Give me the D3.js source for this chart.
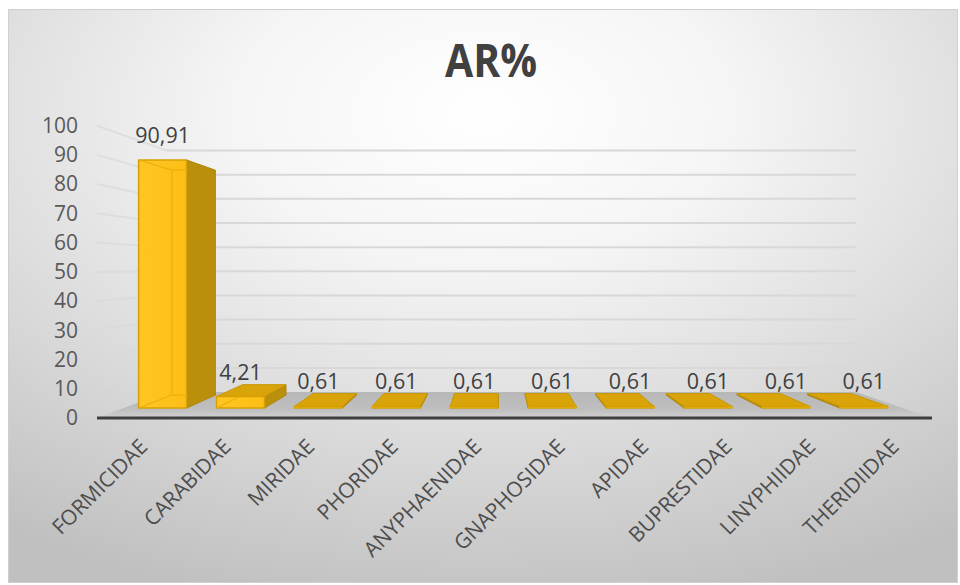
<!DOCTYPE html>
<html>
<head>
<meta charset="utf-8">
<script src="https://cdn.jsdelivr.net/npm/d3@7"></script>
<style>
  html, body { margin: 0; padding: 0; background: #ffffff; }
  svg { display: block; }
</style>
</head>
<body>
<svg id="chart" width="960" height="585"></svg>
<script>
// ---- data ----
const categories = ["FORMICIDAE", "CARABIDAE", "MIRIDAE", "PHORIDAE", "ANYPHAENIDAE",
                    "GNAPHOSIDAE", "APIDAE", "BUPRESTIDAE", "LINYPHIIDAE", "THERIDIIDAE"];
const arValues = [90.91, 4.21, 0.61, 0.61, 0.61, 0.61, 0.61, 0.61, 0.61, 0.61];
const yTicks = [0, 10, 20, 30, 40, 50, 60, 70, 80, 90, 100];
const chartTitle = "AR%";

// ---- setup ----
const svg = d3.select("#chart");
const defs = svg.append("defs");
const FONT = "'Open Sans', 'DejaVu Sans', sans-serif";

// decimal comma formatting for the value labels
const fmt = d3.formatLocale({ decimal: ",", thousands: ".", grouping: [3], currency: ["", ""] }).format(".2f");

// chart area background
const bg = defs.append("radialGradient").attr("id", "bgGrad")
  .attr("cx", "50%").attr("cy", "18%").attr("r", "88%").attr("fx", "50%").attr("fy", "18%");
bg.append("stop").attr("offset", "0%").attr("stop-color", "#ffffff");
bg.append("stop").attr("offset", "30%").attr("stop-color", "#f5f5f5");
bg.append("stop").attr("offset", "100%").attr("stop-color", "#c0c0c0");

svg.append("rect")
  .attr("x", 8.5).attr("y", 9.5).attr("width", 949).attr("height", 573)
  .attr("fill", "url(#bgGrad)").attr("stroke", "#cfcfcf").attr("stroke-width", 1);

// ---- scales (front plane of the 3D box) ----
const x = d3.scaleBand().domain(categories).range([97, 932])
  .paddingInner(0.384).paddingOuter(0.192);
const y = d3.scaleLinear().domain([0, 100]).range([418, 125.6]);

// one-point perspective: k = 1 is the front plane, smaller k lies deeper
const VP = [495, 269];
const K_BAR_FRONT = 0.933, K_BAR_BACK = 0.846, K_WALL = 0.826;
const proj = (X, Y, k) => [VP[0] + k * (X - VP[0]), VP[1] + k * (Y - VP[1])];
const path = pts => "M" + pts.map(p => p[0].toFixed(2) + "," + p[1].toFixed(2)).join("L") + "Z";
const line = (a, b) => "M" + a.join(",") + "L" + b.join(",");

const [X0, X1] = x.range();

// ---- walls: gridlines on back wall and left side wall ----
const grid = svg.append("g").attr("fill", "none").attr("stroke", "#d8d8d8").attr("stroke-width", 2);
yTicks.filter(t => t > 0).forEach(t => {
  grid.append("path").attr("d", line(proj(X0, y(t), K_WALL), proj(X1, y(t), K_WALL)));
  grid.append("path").attr("d", line(proj(X0, y(t), 1), proj(X0, y(t), K_WALL)))
    .attr("stroke-opacity", 0.7);
});

// ---- floor ----
const floorGrad = defs.append("linearGradient").attr("id", "floorGrad")
  .attr("x1", 0).attr("y1", 0).attr("x2", 0).attr("y2", 1);
floorGrad.append("stop").attr("offset", "0%").attr("stop-color", "#b8b8b8");
floorGrad.append("stop").attr("offset", "65%").attr("stop-color", "#bebebe");
floorGrad.append("stop").attr("offset", "100%").attr("stop-color", "#d0d0d0");
svg.append("path")
  .attr("d", path([proj(X0, y(0), 1), proj(X1, y(0), 1), proj(X1, y(0), K_WALL), proj(X0, y(0), K_WALL)]))
  .attr("fill", "url(#floorGrad)");

// ---- bars ----
const frontGrad = defs.append("linearGradient").attr("id", "frontGrad")
  .attr("x1", 0).attr("y1", 0).attr("x2", 1).attr("y2", 0);
frontGrad.append("stop").attr("offset", "0%").attr("stop-color", "#ffc523");
frontGrad.append("stop").attr("offset", "100%").attr("stop-color", "#fdbf16");

const bars = svg.append("g");
categories.forEach((c, i) => {
  const v = arValues[i];
  const xa = x(c), xb = x(c) + x.bandwidth();
  const yb = y(0), yt = y(v);
  const f = { tl: proj(xa, yt, K_BAR_FRONT), tr: proj(xb, yt, K_BAR_FRONT),
              bl: proj(xa, yb, K_BAR_FRONT), br: proj(xb, yb, K_BAR_FRONT) };
  const b = { tl: proj(xa, yt, K_BAR_BACK), tr: proj(xb, yt, K_BAR_BACK),
              bl: proj(xa, yb, K_BAR_BACK), br: proj(xb, yb, K_BAR_BACK) };
  const g = bars.append("g").attr("stroke-linejoin", "round");
  const center = (xa + xb) / 2;

  // side face turned toward the viewer
  const side = center < VP[0] ? [f.tr, b.tr, b.br, f.br] : [f.tl, b.tl, b.bl, f.bl];
  g.append("path").attr("d", path(side))
    .attr("fill", "#b98f0c").attr("stroke", "#b08708").attr("stroke-width", 1);

  // top face, seen when it lies below eye level
  if (yt > VP[1]) {
    g.append("path").attr("d", path([f.tl, f.tr, b.tr, b.tl]))
      .attr("fill", "#d9a409").attr("stroke", "#c99806").attr("stroke-width", 1);
  }

  // front face
  const frontD = path([f.tl, f.tr, f.br, f.bl]);
  g.append("path").attr("d", frontD)
    .attr("fill", "url(#frontGrad)").attr("stroke", "#d6a005").attr("stroke-width", 1.5);

  // hidden back edges faintly visible through the front face
  const clipId = "clip" + i;
  defs.append("clipPath").attr("id", clipId).append("path").attr("d", frontD);
  const near = center < VP[0];
  const hx = near ? b.tl : b.tr, hxb = near ? b.bl : b.br, fx = near ? f.tl : f.tr, fxb = near ? f.bl : f.br;
  g.append("path")
    .attr("d", line(fx, hx) + line(hx, hxb) + line(hxb, fxb) + line(b.tl, b.tr) + line(b.bl, b.br))
    .attr("clip-path", `url(#${clipId})`)
    .attr("fill", "none").attr("stroke", "#e9ad08").attr("stroke-width", 1.2).attr("stroke-opacity", 0.85);

  // value label
  svg.append("text")
    .attr("x", (f.tl[0] + f.tr[0]) / 2).attr("y", f.tl[1] - 17)
    .attr("text-anchor", "middle")
    .attr("font-family", FONT).attr("font-size", 21.5).attr("fill", "#404040")
    .text(fmt(v));
});

// front floor edge
svg.append("path").attr("d", line([X0, y(0)], [X1, y(0)]))
  .attr("stroke", "#3f3f3f").attr("stroke-width", 3.2).attr("fill", "none");

// ---- axes ----
const yAxis = svg.append("g").attr("transform", `translate(${X0},0)`)
  .call(d3.axisLeft(y).tickValues(yTicks).tickSize(0).tickPadding(19).tickFormat(d3.format("d")));
yAxis.select(".domain").remove();
yAxis.selectAll("text")
  .attr("font-family", FONT).attr("font-size", 21).attr("fill", "#595959");

const xAxis = svg.append("g").attr("transform", `translate(0,${y(0)})`)
  .call(d3.axisBottom(x).tickSize(0));
xAxis.select(".domain").remove();
xAxis.selectAll("text")
  .attr("x", 0).attr("y", 0).attr("dy", 0)
  .attr("transform", "translate(10,30) rotate(-45)")
  .attr("text-anchor", "end")
  .attr("font-family", FONT).attr("font-size", 21).attr("fill", "#4d4d4d");

// ---- title ----
svg.append("text")
  .attr("x", 491).attr("y", 77).attr("text-anchor", "middle")
  .attr("font-family", FONT)
  .attr("font-weight", "bold").attr("font-size", 46).attr("fill", "#404040")
  .attr("textLength", 92).attr("lengthAdjust", "spacingAndGlyphs")
  .text(chartTitle);
</script>
</body>
</html>
